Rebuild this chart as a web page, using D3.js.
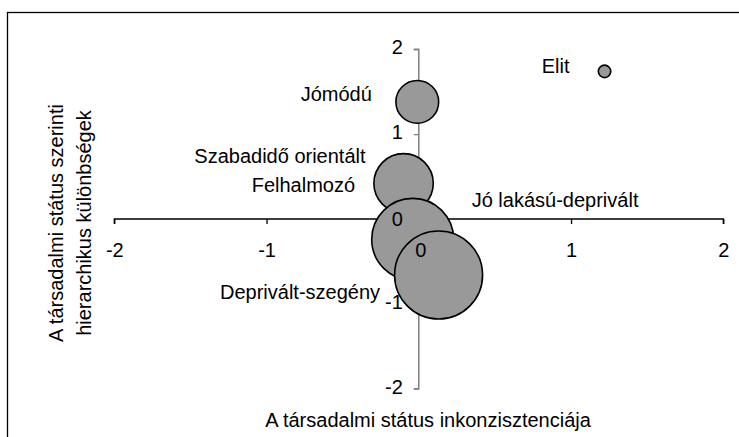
<!DOCTYPE html>
<html>
<head>
<meta charset="utf-8">
<script src="https://cdn.jsdelivr.net/npm/d3@7"></script>
<style>
  html, body { margin: 0; padding: 0; background: #fff; }
  svg { display: block; }
  text { font-family: "Liberation Sans", Arial, sans-serif; fill: #000; }
</style>
</head>
<body>
<svg id="chart" width="739" height="437"></svg>
<script>
// ---- data ----
const groups   = ["Elit", "Jómódú", "Szabadidő orientált", "Felhalmozó", "Jó lakású-deprivált", "Deprivált-szegény"];
const xValues  = [1.22, -0.01, -0.10, -0.10, -0.04, 0.13];   // A társadalmi státus inkonzisztenciája
const yValues  = [1.74, 1.38, 0.43, 0.42, -0.24, -0.66];     // hierarchikus különbségek
const sizes    = [0.5, 5.9, 10.5, 11.4, 21.7, 25.0];         // bubble size (share)
const xTicks   = [-2, -1, 0, 1, 2];
const yTicks   = [-2, -1, 0, 1, 2];
const xTitle   = "A társadalmi státus inkonzisztenciája";
const yTitle   = ["A társadalmi státus szerinti", "hierarchikus különbségek"];

// ---- layout (kept separate from data) ----
const labelLayout = {
  "Elit":                 [541.7, 73],
  "Jómódú":               [300.7, 101],
  "Szabadidő orientált":  [194.3, 162.7],
  "Felhalmozó":           [251.7, 191.7],
  "Jó lakású-deprivált":  [471.7, 206.7],
  "Deprivált-szegény":    [220, 299.3]
};

const svg = d3.select("#chart");
const FONT = 20;

// outer chart border (cropped at right / bottom)
svg.append("rect")
  .attr("x", 7.5).attr("y", 12.5)
  .attr("width", 800).attr("height", 500)
  .attr("fill", "#fff").attr("stroke", "#000").attr("stroke-width", 1.3);

const x = d3.scaleLinear().domain([-2, 2]).range([114.3, 723.3]);
const y = d3.scaleLinear().domain([-2, 2]).range([388.7, 49.3]);
const r = d3.scaleSqrt().domain([0, d3.max(sizes)]).range([0, 44]);

// x axis (black)
const gx = svg.append("g")
  .attr("transform", `translate(0,${y(0)})`)
  .call(d3.axisBottom(x).tickValues(xTicks).tickSize(5).tickPadding(19)
        .tickFormat(d => d === 0 ? "" : d3.format("d")(d).replace("−", "-")));
gx.select(".domain").attr("stroke", "#000").attr("stroke-width", 1.3)
  .attr("d", `M${x(-2)},5V0H${x(2)}V5`);
gx.selectAll(".tick line").attr("stroke", "#000").attr("stroke-width", 1.3);
gx.selectAll(".tick text").attr("font-size", FONT).attr("font-family", "Liberation Sans, Arial, sans-serif");

// y axis (gray)
const gy = svg.append("g")
  .attr("transform", `translate(${x(0)},0)`)
  .call(d3.axisLeft(y).tickValues(yTicks).tickSize(5).tickPadding(11)
        .tickFormat(d => d === 0 ? "" : d3.format("d")(d).replace("−", "-")));
gy.select(".domain").attr("stroke", "#808080").attr("stroke-width", 1.5)
  .attr("d", `M-5,${y(2)}H0V${y(-2)}H-5`);
gy.selectAll(".tick line").attr("stroke", "#808080").attr("stroke-width", 1.3);
gy.selectAll(".tick text").attr("font-size", FONT).attr("dy", "0.22em")
  .attr("font-family", "Liberation Sans, Arial, sans-serif");

// bubbles
const data = groups.map((g, i) => ({ name: g, x: xValues[i], y: yValues[i], s: sizes[i] }));
svg.append("g").selectAll("circle")
  .data(data)
  .join("circle")
  .attr("cx", d => x(d.x))
  .attr("cy", d => y(d.y))
  .attr("r", d => r(d.s))
  .attr("fill", "#999999")
  .attr("stroke", "#000")
  .attr("stroke-width", 1.6);

// zero tick labels drawn above the bubbles
svg.append("text")
  .attr("x", x(0) - 16).attr("y", y(0))
  .attr("dy", "0.35em").attr("text-anchor", "end")
  .attr("font-size", FONT).text(d3.format("d")(0));
svg.append("text")
  .attr("x", x(0) + 2).attr("y", y(0) + 5 + 19)
  .attr("dy", "0.71em").attr("text-anchor", "middle")
  .attr("font-size", FONT).text(d3.format("d")(0));

// category labels
svg.append("g").selectAll("text")
  .data(groups)
  .join("text")
  .attr("x", d => labelLayout[d][0])
  .attr("y", d => labelLayout[d][1])
  .attr("font-size", FONT)
  .text(d => d);

// axis titles
svg.append("text")
  .attr("x", 428).attr("y", 427)
  .attr("text-anchor", "middle").attr("font-size", FONT)
  .text(xTitle);

const yt = svg.append("g").attr("transform", "translate(0,223)");
yt.selectAll("text")
  .data(yTitle)
  .join("text")
  .attr("transform", (d, i) => `translate(${i === 0 ? 63 : 91},0) rotate(-90)`)
  .attr("text-anchor", "middle").attr("font-size", FONT)
  .text(d => d);
</script>
</body>
</html>
